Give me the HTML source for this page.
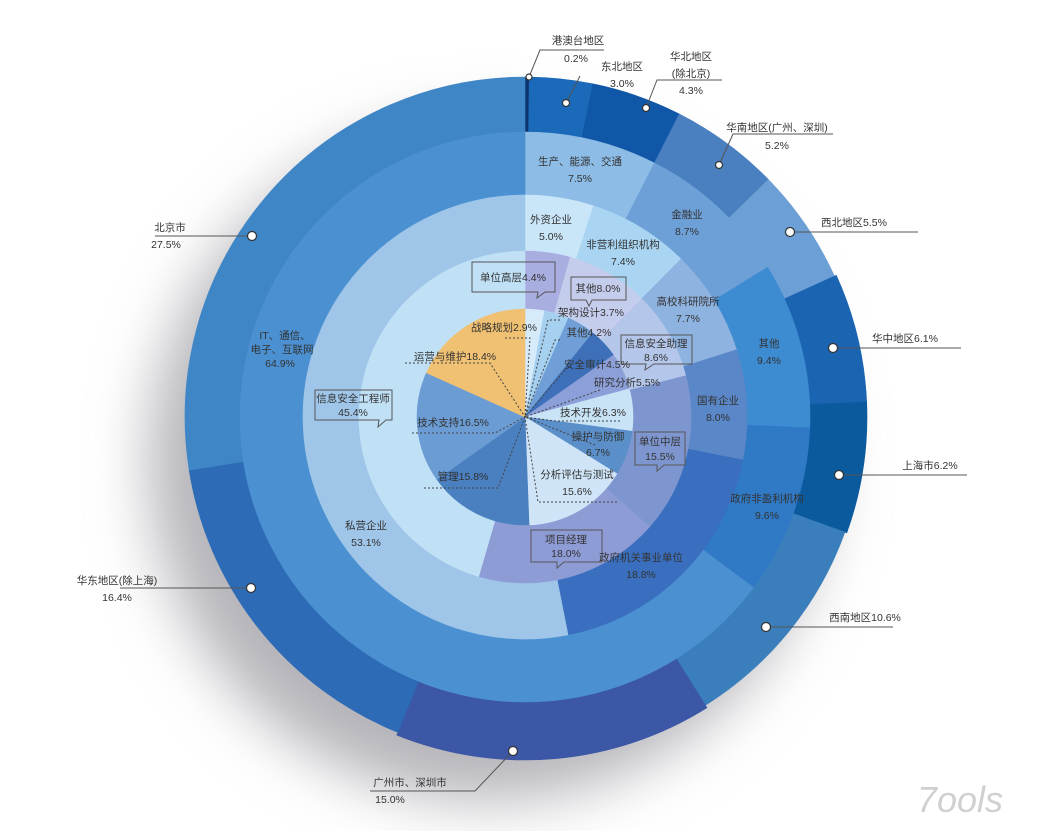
<!DOCTYPE html>
<html><head><meta charset="utf-8">
<style>
html,body{margin:0;padding:0;background:#fff;}
svg{display:block;}
text{font-family:"Liberation Sans","Noto Sans CJK SC",sans-serif;font-size:10.5px;fill:#333;text-anchor:middle;}
</style></head>
<body>
<svg id="s" width="1049" height="831" viewBox="0 0 1049 831" xmlns="http://www.w3.org/2000/svg">
<defs>
<filter id="blur" x="-30%" y="-30%" width="160%" height="160%"><feGaussianBlur stdDeviation="30"/></filter>
</defs>
<circle cx="488" cy="462" r="338" fill="#b4b4b9" filter="url(#blur)"/>
<g id="arcs"></g>
<g id="ann" stroke="#555" stroke-width="1" fill="none">
<g stroke-dasharray="2,2" stroke="#444">
<polyline points="505,338 530,338 525,417"/>
<polyline points="405,363 490,363 525,417"/>
<polyline points="560,320 548,320 525,417"/>
<polyline points="560,340 555,340 525,417"/>
<polyline points="565,370 525,417"/>
<polyline points="600,390 525,417"/>
<polyline points="620,421 555,421 525,417"/>
<polyline points="595,445 525,417"/>
<polyline points="617,502 538,502 525,417"/>
<polyline points="424,488 498,488 525,417"/>
<polyline points="412,433 495,433 525,417"/>
</g>
<path d="M472,262 H555 V292 H545 L537,298 L538,292 H472 Z" fill="none" stroke="#555"/>
<path d="M571,277 H626 V300 H592 L589,306 L586,300 H571 Z" fill="none"/>
<path d="M621,335 H692 V364 H654 L645,370 L646,364 H621 Z" fill="none"/>
<path d="M315,390 H392 V420 H386 L378,427 L379,420 H315 Z" fill="none"/>
<path d="M635,432 H685 V465 H664 L657,471 L657,465 H635 Z" fill="none"/>
<path d="M531,530 H602 V562 H564 L557,568 L557,562 H531 Z" fill="none"/>
<polyline points="529,77 540,50 604,50"/>
<polyline points="566,103 580,76"/>
<polyline points="646,108 657,80 722,80"/>
<polyline points="719,165 733,134 833,134"/>
<polyline points="790,232 918,232"/>
<polyline points="833,348 961,348"/>
<polyline points="839,475 967,475"/>
<polyline points="766,627 893,627"/>
<polyline points="513,751 475,791 370,791"/>
<polyline points="251,588 120,588"/>
<polyline points="252,236 155,236"/>
</g>
<g fill="#fff" stroke="#333" stroke-width="1.2">
<circle cx="529" cy="77" r="3"/><circle cx="566" cy="103" r="3.5"/><circle cx="646" cy="108" r="3.5"/>
<circle cx="719" cy="165" r="3.5"/><circle cx="790" cy="232" r="4.5"/><circle cx="833" cy="348" r="4.5"/>
<circle cx="839" cy="475" r="4.5"/><circle cx="766" cy="627" r="4.5"/><circle cx="513" cy="751" r="4.5"/>
<circle cx="251" cy="588" r="4.5"/><circle cx="252" cy="236" r="4.5"/>
</g>
<g>
<text x="578" y="44">港澳台地区</text><text x="576" y="62">0.2%</text>
<text x="622" y="70">东北地区</text><text x="622" y="87">3.0%</text>
<text x="691" y="60">华北地区</text><text x="691" y="77">(除北京)</text><text x="691" y="94">4.3%</text>
<text x="777" y="131">华南地区(广州、深圳)</text><text x="777" y="149">5.2%</text>
<text x="854" y="226">西北地区5.5%</text>
<text x="905" y="342">华中地区6.1%</text>
<text x="930" y="469">上海市6.2%</text>
<text x="865" y="621">西南地区10.6%</text>
<text x="410" y="786">广州市、深圳市</text><text x="390" y="803">15.0%</text>
<text x="117" y="584">华东地区(除上海)</text><text x="117" y="601">16.4%</text>
<text x="170" y="231">北京市</text><text x="166" y="248">27.5%</text>

<text x="580" y="165">生产、能源、交通</text><text x="580" y="182">7.5%</text>
<text x="687" y="218">金融业</text><text x="687" y="235">8.7%</text>
<text x="769" y="347">其他</text><text x="769" y="364">9.4%</text>
<text x="767" y="502">政府非盈利机构</text><text x="767" y="519">9.6%</text>
<text x="285" y="339">IT、通信、</text><text x="282" y="353">电子、互联网</text><text x="280" y="367">64.9%</text>

<text x="551" y="223">外资企业</text><text x="551" y="240">5.0%</text>
<text x="623" y="248">非营利组织机构</text><text x="623" y="265">7.4%</text>
<text x="688" y="305">高校科研院所</text><text x="688" y="322">7.7%</text>
<text x="718" y="404">国有企业</text><text x="718" y="421">8.0%</text>
<text x="641" y="561">政府机关事业单位</text><text x="641" y="578">18.8%</text>
<text x="366" y="529">私营企业</text><text x="366" y="546">53.1%</text>

<text x="513" y="281">单位高层4.4%</text>
<text x="598" y="292">其他8.0%</text>
<text x="656" y="347">信息安全助理</text><text x="656" y="361">8.6%</text>
<text x="353" y="402">信息安全工程师</text><text x="353" y="416">45.4%</text>
<text x="660" y="445">单位中层</text><text x="660" y="460">15.5%</text>
<text x="566" y="543">项目经理</text><text x="566" y="557">18.0%</text>

<text x="504" y="331">战略规划2.9%</text>
<text x="455" y="360">运营与维护18.4%</text>
<text x="591" y="316">架构设计3.7%</text>
<text x="589" y="336">其他4.2%</text>
<text x="597" y="368">安全审计4.5%</text>
<text x="627" y="386">研究分析5.5%</text>
<text x="593" y="416">技术开发6.3%</text>
<text x="598" y="440">操护与防御</text><text x="598" y="456">6.7%</text>
<text x="577" y="478">分析评估与测试</text><text x="577" y="495">15.6%</text>
<text x="463" y="480">管理15.8%</text>
<text x="453" y="426">技术支持16.5%</text>
</g>
<text x="960" y="812" style="font-size:36px;font-style:italic;fill:#d0d0d0;font-family:'Liberation Sans',sans-serif;">7ools</text>
</svg>
<script>
var cx=525,cy=417,NS="http://www.w3.org/2000/svg";
function P(r,a){a=a*Math.PI/180;return [cx+r*Math.sin(a),cy-r*Math.cos(a)];}
function arc(r0,r1,a0,a1,c){
 var g=document.getElementById('arcs');var p=document.createElementNS(NS,'path');
 var L=(a1-a0)>180?1:0;var A=P(r1,a0),B=P(r1,a1),C=P(r0,a1),D=P(r0,a0);var d;
 if(r0<=0){d="M"+cx+","+cy+"L"+A+"A"+r1+","+r1+" 0 "+L+" 1 "+B+"Z";}
 else d="M"+A+"A"+r1+","+r1+" 0 "+L+" 1 "+B+"L"+C+"A"+r0+","+r0+" 0 "+L+" 0 "+D+"Z";
 p.setAttribute('d',d);p.setAttribute('fill',c);p.setAttribute('stroke',c);p.setAttribute('stroke-width','0.6');g.appendChild(p);}
function ring(r0,r1,data){var a=0;data.forEach(function(x){var b=a+x[0]*3.6;var rr0=x[2]||r0,rr1=x[3]||r1;arc(rr0,rr1,a,Math.min(b,360),x[1]);a=b;});}
ring(284,340,[[0.2,"#0c3570"],[3.0,"#1a6ab9"],[4.3,"#1157a7"],[5.2,"#4a7fc0"],[5.5,"#6b9fd5"],[6.1,"#1b64b1",270,342],[6.2,"#0b5a9e",270,342],[10.6,"#3a7ebb"],[15.0,"#3c57a5",264,343],[16.4,"#2d6bb6"],[27.5,"#3f86c6"]]);
ring(222,285,[[7.5,"#8dbce6"],[8.7,"#6ea0d8"],[9.4,"#3d8bd0"],[9.6,"#2f79c5"],[64.9,"#4b90d1"]]);
ring(166,222,[[5.0,"#c9e5f8"],[7.4,"#a9d5f2"],[7.7,"#8fb3e0"],[8.0,"#5a87c8"],[18.8,"#3a6fbf"],[53.1,"#9fc6e9"]]);
ring(108,166,[[4.4,"#a9aee0"],[8.0,"#c5cdec"],[8.6,"#b4c6ea"],[15.5,"#7e96cf"],[18.0,"#8e9cd6"],[45.5,"#c0e0f6"]]);
ring(0,108,[[2.9,"#d6ebfa"],[3.7,"#a6d0f0"],[4.2,"#6f9fd6"],[4.5,"#3e70b9"],[5.5,"#8c9fd8"],[6.3,"#c9e3f6"],[6.7,"#5a8fc9"],[15.6,"#cfe5f7"],[15.8,"#4a7fc0"],[16.5,"#6b9cd4"],[18.4,"#f0c172"]]);
</script>
</body></html>
